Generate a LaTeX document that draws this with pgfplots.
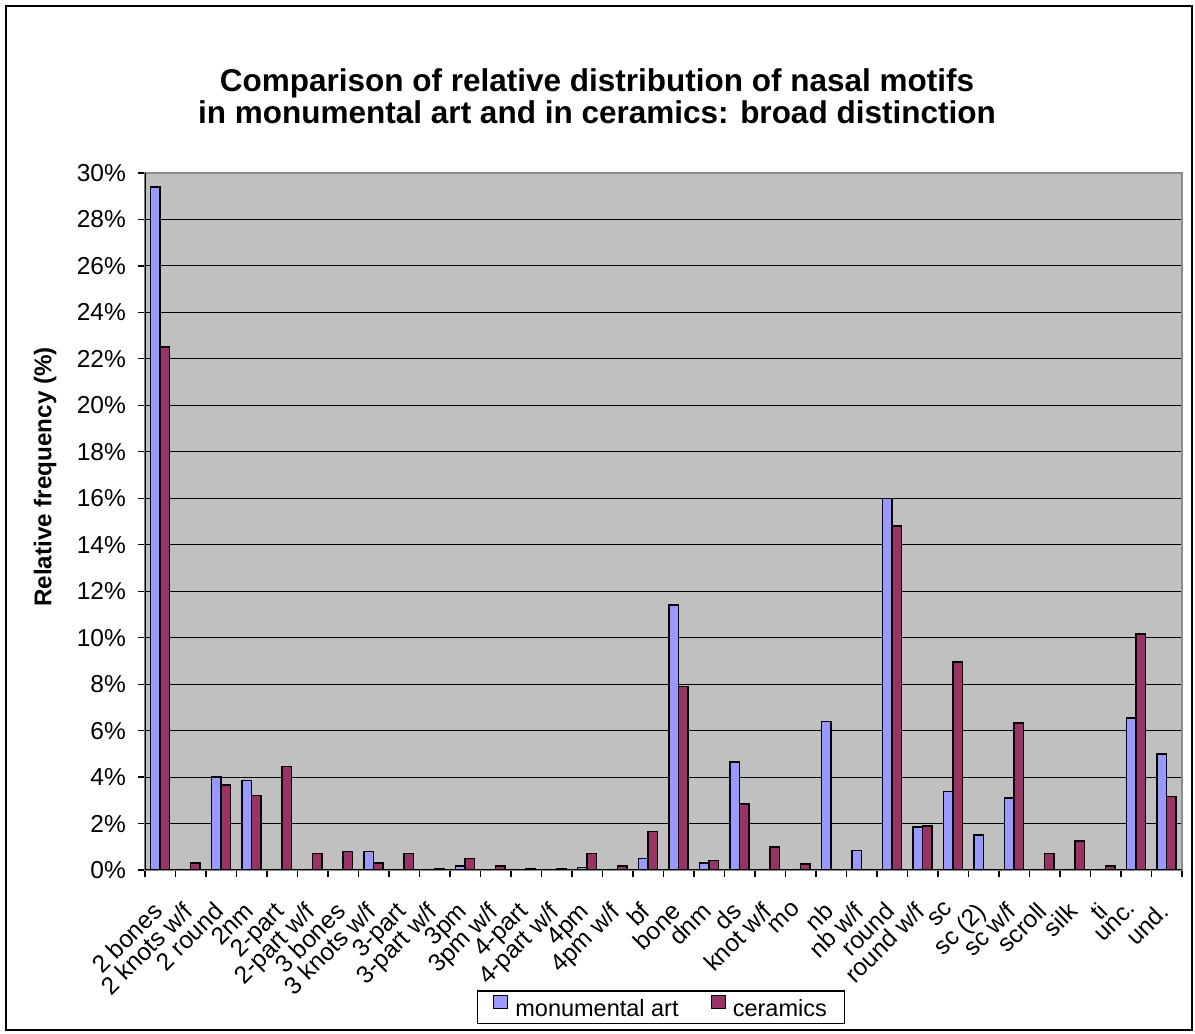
\documentclass[border=0pt]{standalone}
\usepackage{pgfplots}
\pgfplotsset{compat=1.18}
\usepackage{fontspec}
\setmainfont{Liberation Sans}
\definecolor{monu}{RGB}{153,153,255}
\definecolor{cera}{RGB}{153,51,102}
\definecolor{plotbg}{RGB}{192,192,192}
\begin{document}
\begin{tikzpicture}[x=1pt,y=1pt]
\fill[white] (0,0) rectangle (1195,1034);
\draw[black, line width=1.2pt] (6,4) rectangle (1192,1028);
\begin{axis}[
  at={(145pt,164pt)}, anchor=south west,
  scale only axis, width=1037pt, height=697pt,
  ybar=0pt, bar width=9.5pt,
  xmin=-0.5, xmax=33.5, ymin=0, ymax=30,
  axis background/.style={fill=plotbg},
  axis line style={draw=gray!90, line width=1.2pt},
  xtick={0,...,33},
  xticklabels={2 bones,2 knots w/f,2 round,2nm,2-part,2-part w/f,3 bones,3 knots w/f,3-part,3-part w/f,3pm,3pm w/f,4-part,4-part w/f,4pm,4pm w/f,bf,bone,dnm,ds,knot w/f,mo,nb,nb w/f,round,round w/f,sc,sc (2),sc w/f,scroll,silk,ti,unc.,und.},
  minor xtick={-0.5,0.5,...,33.5},
  every major x tick/.append style={draw=none},
  every minor x tick/.append style={black, line width=1.2pt},
  minor tick length=7pt,
  major tick length=7pt,
  tick align=outside,
  xtick pos=bottom, ytick pos=left,
  ytick={0,2,...,30},
  yticklabels={0\%,2\%,4\%,6\%,8\%,10\%,12\%,14\%,16\%,18\%,20\%,22\%,24\%,26\%,28\%,30\%},
  every major y tick/.append style={black, line width=1.2pt},
  ymajorgrids, major grid style={black, line width=1pt},
  tick label style={font=\fontsize{24.5}{28}\selectfont},
  xticklabel style={xshift=-9pt, yshift=-22pt, rotate=45, anchor=north east, inner sep=1pt},
  yticklabel style={inner sep=4pt, xshift=-8pt},
  ylabel={Relative frequency (\%)},
  ylabel style={at={(axis description cs:-0.0964,0.564)}, anchor=center, font=\fontsize{24.2}{28}\selectfont\bfseries},
  legend columns=2,
  legend style={at={(0.4976,-0.197)}, anchor=center, draw=black, line width=1.2pt,
    font=\fontsize{23.5}{27}\selectfont, inner xsep=16pt, inner ysep=4pt,
    /tikz/every odd column/.append style={column sep=5pt},
    /tikz/every even column/.append style={column sep=30pt}},
]
\addplot[fill=monu, draw=black, line width=1.5pt,
  legend image code/.code={\node[draw=black, fill=monu, line width=1.2pt, minimum width=14pt, minimum height=13pt, inner sep=0pt, anchor=south west, yshift=-1pt] {};}] coordinates {
(0,29.4) (2,4.0) (3,3.85) (7,0.8) (10,0.17) (14,0.11) (16,0.5) (17,11.4) (18,0.3) (19,4.65)
(22,6.4) (23,0.85) (24,16.0) (25,1.85) (26,3.37) (27,1.5) (28,3.1) (32,6.55) (33,5.0)
};
\addplot[fill=cera, draw=black, line width=1.5pt,
  legend image code/.code={\node[draw=black, fill=cera, line width=1.2pt, minimum width=14pt, minimum height=13pt, inner sep=0pt, anchor=south west, yshift=-1pt] {};}] coordinates {
(0,22.5) (1,0.3) (2,3.65) (3,3.2) (4,4.45) (5,0.7) (6,0.8) (7,0.3) (8,0.7) (9,0.05)
(10,0.5) (11,0.17) (12,0.05) (13,0.05) (14,0.7) (15,0.17) (16,1.65) (17,7.9) (18,0.4) (19,2.85)
(20,1.0) (21,0.25) (24,14.8) (25,1.9) (26,8.95) (28,6.33) (29,0.7) (30,1.25) (31,0.17) (32,10.15) (33,3.17)
};
\legend{monumental art, ceramics}
\draw[black, line width=1.3pt] (rel axis cs:0,0) -- (rel axis cs:0,1);
\draw[black, line width=1.3pt] (rel axis cs:0,0) -- (rel axis cs:1,0);
\end{axis}
\node[align=center, font=\fontsize{31.5}{32}\selectfont\bfseries] at (597,938) {Comparison of relative distribution of nasal motifs\\in monumental art and in ceramics: broad distinction};
\end{tikzpicture}
\end{document}
